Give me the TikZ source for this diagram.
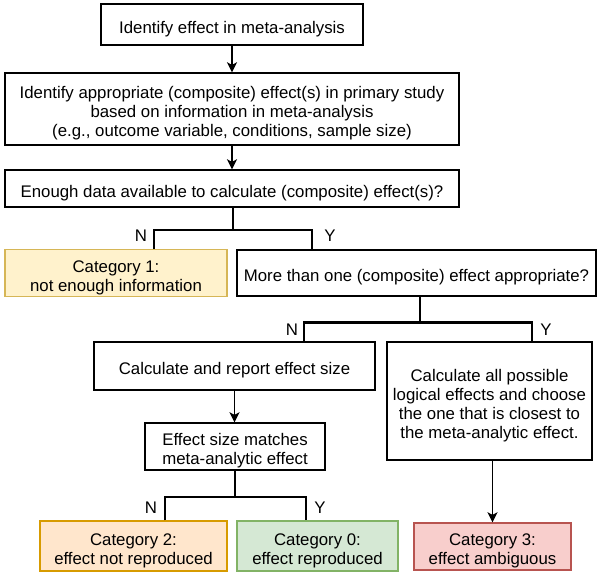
\documentclass[tikz,border=0pt]{standalone}
\usepackage{fontspec}
\setmainfont{Liberation Sans}
\usetikzlibrary{arrows.meta}
\definecolor{yfill}{HTML}{FFF2CC}
\definecolor{ydraw}{HTML}{D6B656}
\definecolor{ofill}{HTML}{FFE6CC}
\definecolor{odraw}{HTML}{D79B00}
\definecolor{gfill}{HTML}{D5E8D4}
\definecolor{gdraw}{HTML}{82B366}
\definecolor{rfill}{HTML}{F8CECC}
\definecolor{rdraw}{HTML}{B85450}
\begin{document}
\begin{tikzpicture}[x=1pt,y=-1pt,
  font=\fontsize{16.8}{19}\selectfont,
  box/.style={draw=black, line width=1.4pt, fill=white, inner sep=0pt},
  cat/.style={box, fill=#1fill, draw=#1draw},
  txt/.style={align=center, inner sep=0pt, yshift=-4.5pt},
  arr/.style={line width=1.4pt, -{Stealth[length=10pt,width=10pt,inset=2.5pt]}},
  branch/.style={line width=2.8pt},
  lbl/.style={inner sep=0pt}]
\useasboundingbox (0,0) rectangle (606,577);

\node[box, minimum width=262, minimum height=41] (b1) at (232,24.5) {};
\node[box, minimum width=454, minimum height=72] (b2) at (232,109) {};
\node[box, minimum width=454, minimum height=37] (b3) at (232,188.5) {};
\node[cat=y, minimum width=222, minimum height=46.5] (c1) at (116,273) {};
\node[box, minimum width=359, minimum height=46] (b4) at (416.5,273) {};
\node[box, minimum width=281, minimum height=48] (b5) at (234.5,366) {};
\node[box, minimum width=205, minimum height=118] (b6) at (489.5,401) {};
\node[box, minimum width=180, minimum height=47] (b7) at (235,446.5) {};
\node[cat=o, minimum width=187, minimum height=50] (c2) at (133.5,546) {};
\node[cat=g, minimum width=161, minimum height=50] (c0) at (317.5,546) {};
\node[cat=r, minimum width=157, minimum height=47] (c3) at (492.5,546.5) {};

\node[txt] (t1) at (b1) {Identify effect in meta-analysis};
\node[txt] (t2) at (b2) {Identify appropriate (composite) effect(s) in primary study\\based on information in meta-analysis\\(e.g., outcome variable, conditions, sample size)};
\node[txt] (t3) at (b3) {Enough data available to calculate (composite) effect(s)?};
\node[txt] (tc1) at (c1) {Category 1:\\not enough information};
\node[txt] (t4) at (b4) {More than one (composite) effect appropriate?};
\node[txt] (t5) at (b5) {Calculate and report effect size};
\node[txt] (t6) at (b6) {Calculate all possible\\logical effects and choose\\the one that is closest to\\the meta-analytic effect.};
\node[txt] (t7) at (b7) {Effect size matches\\meta-analytic effect};
\node[txt] (tc2) at (c2) {Category 2:\\effect not reproduced};
\node[txt] (tc0) at (c0) {Category 0:\\effect reproduced};
\node[txt] (tc3) at (c3) {Category 3:\\effect ambiguous};

% arrows
\draw[arr] (b1.south) -- (b2.north);
\draw[arr] (b2.south) -- (b3.north);
\draw[arr] (b5.south) -- (b5.south |- b7.north);
\draw[arr] (b6.south -| c3.north) -- (c3.north);

% branches
\coordinate (j1) at (233,230);
\coordinate (l1) at (154,0);
\coordinate (r1) at (312,0);
\draw[branch] (b3.south -| j1) -- (j1);
\draw[branch] (c1.north -| l1) |- (j1) -| (b4.north -| r1);

\coordinate (j2) at (420,322.5);
\coordinate (l2) at (304,0);
\coordinate (r2) at (532,0);
\draw[branch] (b4.south -| j2) -- (j2);
\draw[branch] (b5.north -| l2) |- (j2) -| (b6.north -| r2);

\coordinate (j3) at (235,497);
\coordinate (l3) at (165,0);
\coordinate (r3) at (306,0);
\draw[branch] (b7.south -| j3) -- (j3);
\draw[branch] (c2.north -| l3) |- (j3) -| (c0.north -| r3);

% labels
\node[lbl] (n1) at (141,236) {N};
\node[lbl] (y1) at (330,236) {Y};
\node[lbl] (n2) at (292,330) {N};
\node[lbl] (y2) at (546,330) {Y};
\node[lbl] (n3) at (151,508) {N};
\node[lbl] (y3) at (320,508) {Y};
\end{tikzpicture}
\end{document}
